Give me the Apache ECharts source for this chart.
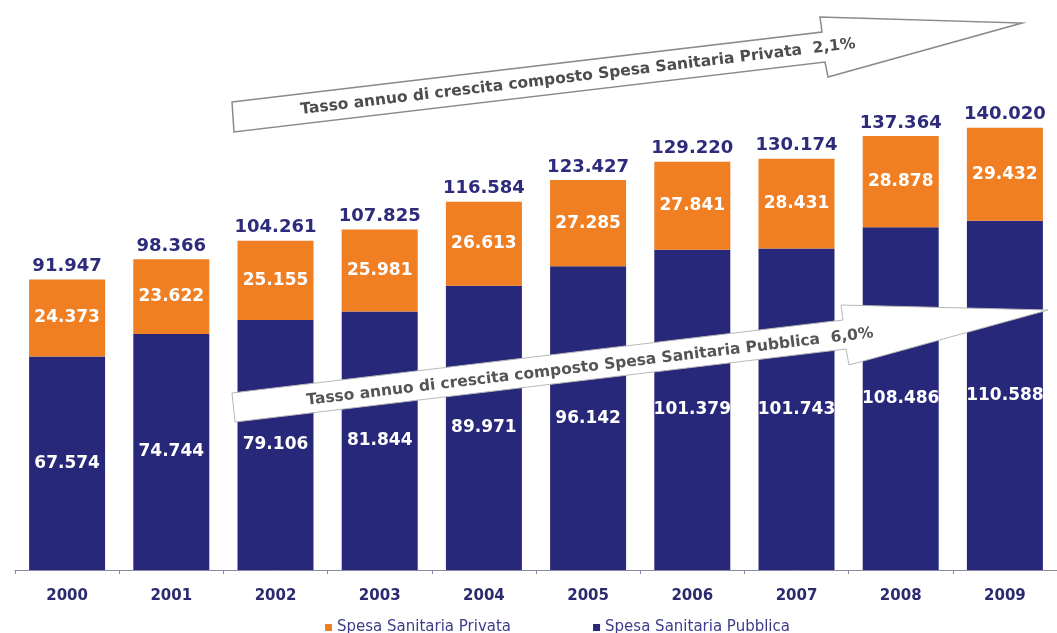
<!DOCTYPE html>
<html>
<head>
<meta charset="utf-8">
<style>
  html, body { margin: 0; padding: 0; background: #ffffff; }
  #chart { width: 1057px; height: 633px; }
</style>
<script src="https://cdn.jsdelivr.net/npm/echarts@6/dist/echarts.min.js"></script>
</head>
<body>
<div id="chart"></div>
<script>
// Spesa sanitaria in Italia, milioni di euro
const years = ['2000', '2001', '2002', '2003', '2004', '2005', '2006', '2007', '2008', '2009'];
const pubblica = [67574, 74744, 79106, 81844, 89971, 96142, 101379, 101743, 108486, 110588];
const privata = [24373, 23622, 25155, 25981, 26613, 27285, 27841, 28431, 28878, 29432];
const totali = [91947, 98366, 104261, 107825, 116584, 123427, 129220, 130174, 137364, 140020];

const seriesNames = ['Spesa Sanitaria Privata', 'Spesa Sanitaria Pubblica'];
const arrowTexts = [
  'Tasso annuo di crescita composto Spesa Sanitaria Privata  2,1%',
  'Tasso annuo di crescita composto Spesa Sanitaria Pubblica  6,0%'
];

const NAVY = '#28287a';
const ORANGE = '#f07e22';
const FONT = '"DejaVu Sans", Verdana, sans-serif';

// 91947 -> "91.947"
function fmt(n) {
  const s = String(n);
  return s.length > 3 ? s.slice(0, -3) + '.' + s.slice(-3) : s;
}

// Growth-rate arrows drawn over the plot
const arrowUp = [[232, 102], [822, 32], [820, 17], [1022, 23], [828, 77], [825, 62], [234, 132]];
const arrowLow = [[232, 393], [843, 320], [841, 305], [1048, 310], [849, 365], [846, 349], [235, 422]];
const tilt = Math.atan(0.119);

const chart = echarts.init(document.getElementById('chart'), null, { renderer: 'canvas' });

chart.setOption({
  backgroundColor: '#ffffff',
  animation: false,
  grid: { left: 15, right: -10, top: 33, bottom: 63 },
  legend: {
    data: seriesNames,
    left: 320,
    top: 615,
    icon: 'rect',
    itemWidth: 7,
    itemHeight: 7,
    itemGap: 82,
    textStyle: { color: '#3d3c88', fontFamily: FONT, fontSize: 15 }
  },
  xAxis: {
    type: 'category',
    data: years,
    axisLine: { lineStyle: { color: '#8e8aa6', width: 1 } },
    axisTick: { show: true, length: 4, lineStyle: { color: '#8e8aa6' } },
    axisLabel: {
      color: '#2b2a6e',
      fontFamily: FONT,
      fontWeight: 'bold',
      fontSize: 15,
      margin: 19
    }
  },
  yAxis: {
    type: 'value',
    min: 0,
    max: 170000,
    show: false,
    splitLine: { show: false }
  },
  series: [
    {
      name: seriesNames[1],
      type: 'bar',
      stack: 'spesa',
      data: pubblica,
      barWidth: 76,
      itemStyle: { color: NAVY },
      label: {
        show: true,
        position: 'inside',
        color: '#ffffff',
        fontFamily: FONT,
        fontWeight: 'bold',
        fontSize: 17,
        formatter: p => fmt(p.value)
      }
    },
    {
      name: seriesNames[0],
      type: 'bar',
      stack: 'spesa',
      data: privata,
      barWidth: 76,
      itemStyle: { color: ORANGE },
      label: {
        show: true,
        position: 'inside',
        color: '#ffffff',
        fontFamily: FONT,
        fontWeight: 'bold',
        fontSize: 17,
        formatter: p => fmt(p.value)
      }
    },
    {
      // totals printed above each stacked bar
      name: 'Totale',
      type: 'line',
      data: totali,
      symbol: 'circle',
      symbolSize: 0,
      showSymbol: true,
      lineStyle: { width: 0, opacity: 0 },
      itemStyle: { color: '#2d2b7a' },
      silent: true,
      z: 5,
      label: {
        show: true,
        position: 'top',
        distance: 4,
        color: '#2d2b7a',
        fontFamily: FONT,
        fontWeight: 'bold',
        fontSize: 18,
        formatter: p => fmt(p.value)
      }
    }
  ],
  graphic: [
    {
      type: 'polygon',
      z: 100,
      shape: { points: arrowUp },
      style: { fill: '#ffffff', stroke: '#8a8a8a', lineWidth: 1.5 }
    },
    {
      type: 'text',
      z: 101,
      x: 578,
      y: 77,
      rotation: tilt,
      style: {
        text: arrowTexts[0],
        fill: '#4d4d4d',
        font: 'bold 15.5px ' + FONT,
        align: 'center',
        verticalAlign: 'middle'
      }
    },
    {
      type: 'polygon',
      z: 100,
      shape: { points: arrowLow },
      style: { fill: '#ffffff', stroke: '#b8b8b8', lineWidth: 1 }
    },
    {
      type: 'text',
      z: 101,
      x: 590,
      y: 367,
      rotation: tilt,
      style: {
        text: arrowTexts[1],
        fill: '#555555',
        font: 'bold 15.5px ' + FONT,
        align: 'center',
        verticalAlign: 'middle'
      }
    }
  ]
});
</script>
</body>
</html>
